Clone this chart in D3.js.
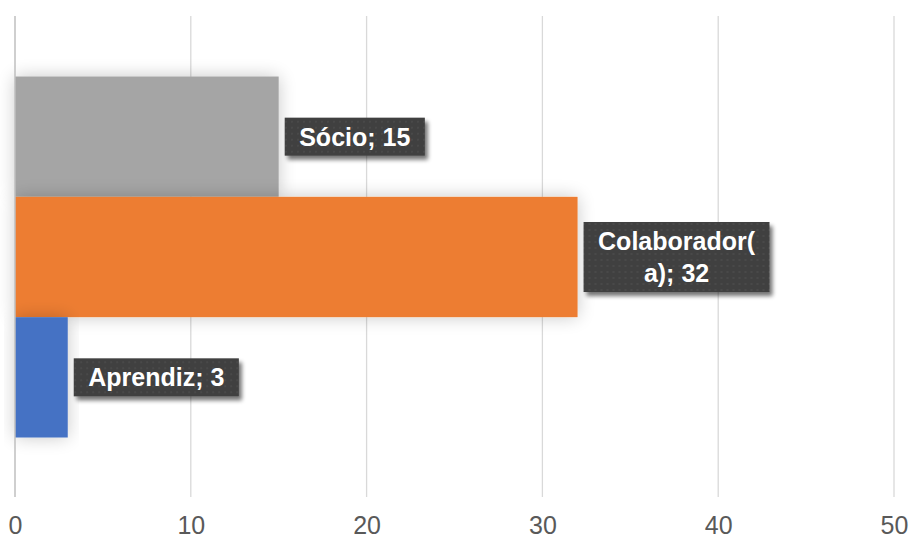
<!DOCTYPE html>
<html>
<head>
<meta charset="utf-8">
<script src="https://cdn.jsdelivr.net/npm/d3@7"></script>
<style>
  html, body { margin: 0; padding: 0; background: #ffffff; }
  svg { display: block; }
</style>
</head>
<body>
<svg id="chart" width="912" height="540"></svg>
<script>
// Categories (top to bottom) with their counts and colours
const categories = ["Sócio", "Colaborador(a)", "Aprendiz"];
const values = [15, 32, 3];
const colors = ["#a5a5a5", "#ed7d31", "#4472c4"];
// Label text lines per bar
const labelLines = [["Sócio; 15"], ["Colaborador(", "a); 32"], ["Aprendiz; 3"]];
const xTicks = [0, 10, 20, 30, 40, 50];

const svg = d3.select("#chart");
const plot = { left: 15, right: 894, top: 16, bottom: 497 };

const x = d3.scaleLinear().domain([0, 50]).range([plot.left, plot.right]);
const y = d3.scaleBand().domain(categories).range([76.5, 437.5]).padding(0);

const defs = svg.append("defs");
// soft glow around bars
const glow = defs.append("filter").attr("id", "barShadow")
  .attr("x", "-20%").attr("y", "-30%").attr("width", "140%").attr("height", "160%");
glow.append("feGaussianBlur").attr("in", "SourceAlpha").attr("stdDeviation", 9).attr("result", "b");
glow.append("feComponentTransfer").attr("in", "b").attr("result", "s")
  .append("feFuncA").attr("type", "linear").attr("slope", 0.22);
const gm = glow.append("feMerge");
gm.append("feMergeNode").attr("in", "s");
gm.append("feMergeNode").attr("in", "SourceGraphic");

// offset shadow for label boxes
const ls = defs.append("filter").attr("id", "labelShadow")
  .attr("x", "-20%").attr("y", "-30%").attr("width", "140%").attr("height", "170%");
ls.append("feGaussianBlur").attr("in", "SourceAlpha").attr("stdDeviation", 2).attr("result", "b");
ls.append("feOffset").attr("in", "b").attr("dx", 3).attr("dy", 4).attr("result", "o");
ls.append("feComponentTransfer").attr("in", "o").attr("result", "s")
  .append("feFuncA").attr("type", "linear").attr("slope", 0.55);
const lm = ls.append("feMerge");
lm.append("feMergeNode").attr("in", "s");
lm.append("feMergeNode").attr("in", "SourceGraphic");

// dotted texture for label boxes
const pat = defs.append("pattern").attr("id", "dots").attr("patternUnits", "userSpaceOnUse")
  .attr("width", 6).attr("height", 6);
pat.append("rect").attr("width", 6).attr("height", 6).attr("fill", "#3f3f3f");
pat.append("circle").attr("cx", 3).attr("cy", 3).attr("r", 1).attr("fill", "#4e4e4e");

// gridlines
svg.append("g").selectAll("line").data(xTicks.filter(d => d > 0)).join("line")
  .attr("x1", d => x(d)).attr("x2", d => x(d))
  .attr("y1", plot.top).attr("y2", plot.bottom)
  .attr("stroke", "#d9d9d9").attr("stroke-width", 1.3);

// bars
svg.append("g").selectAll("rect").data(categories).join("rect")
  .attr("x", x(0))
  .attr("y", d => y(d))
  .attr("width", (d, i) => x(values[i]) - x(0))
  .attr("height", y.bandwidth())
  .attr("fill", (d, i) => colors[i])
  .attr("filter", "url(#barShadow)");

// value axis baseline (vertical at 0)
svg.append("line")
  .attr("x1", x(0)).attr("x2", x(0)).attr("y1", plot.top).attr("y2", plot.bottom)
  .attr("stroke", "#bfbfbf").attr("stroke-width", 1.5);

// x axis tick labels
const xAxis = d3.axisBottom(x).tickValues(xTicks).tickSize(0).tickPadding(0);
const ax = svg.append("g").call(xAxis);
ax.select(".domain").remove();
ax.selectAll("text")
  .attr("y", 534)
  .attr("dy", null)
  .attr("fill", "#595959")
  .style("font-family", "'Liberation Sans', Arial, sans-serif")
  .style("font-size", "25px");

// data labels
const fontSize = 25, lineH = 32, padX = 14.5;
categories.forEach((c, i) => {
  const lines = labelLines[i];
  const g = svg.append("g");
  const bx = x(values[i]) + 6;
  const cy = y(c) + y.bandwidth() / 2;
  const t = g.append("text")
    .attr("fill", "#ffffff")
    .attr("font-weight", "bold")
    .attr("text-anchor", "middle")
    .style("font-family", "'Liberation Sans', Arial, sans-serif")
    .style("font-size", fontSize + "px");
  lines.forEach((ln, k) => {
    t.append("tspan").attr("x", 0).attr("y", (k - (lines.length - 1) / 2) * lineH).attr("dy", "0.36em").text(ln);
  });
  let tw = 0;
  t.selectAll("tspan").each(function () { tw = Math.max(tw, this.getComputedTextLength()); });
  const bw = tw + padX * 2;
  const bh = lines.length > 1 ? 70 : 38;
  g.insert("rect", "text")
    .attr("x", -bw / 2).attr("y", -bh / 2)
    .attr("width", bw).attr("height", bh)
    .attr("fill", "url(#dots)")
    .attr("filter", "url(#labelShadow)");
  g.attr("transform", `translate(${bx + bw / 2}, ${cy})`);
});
</script>
</body>
</html>
